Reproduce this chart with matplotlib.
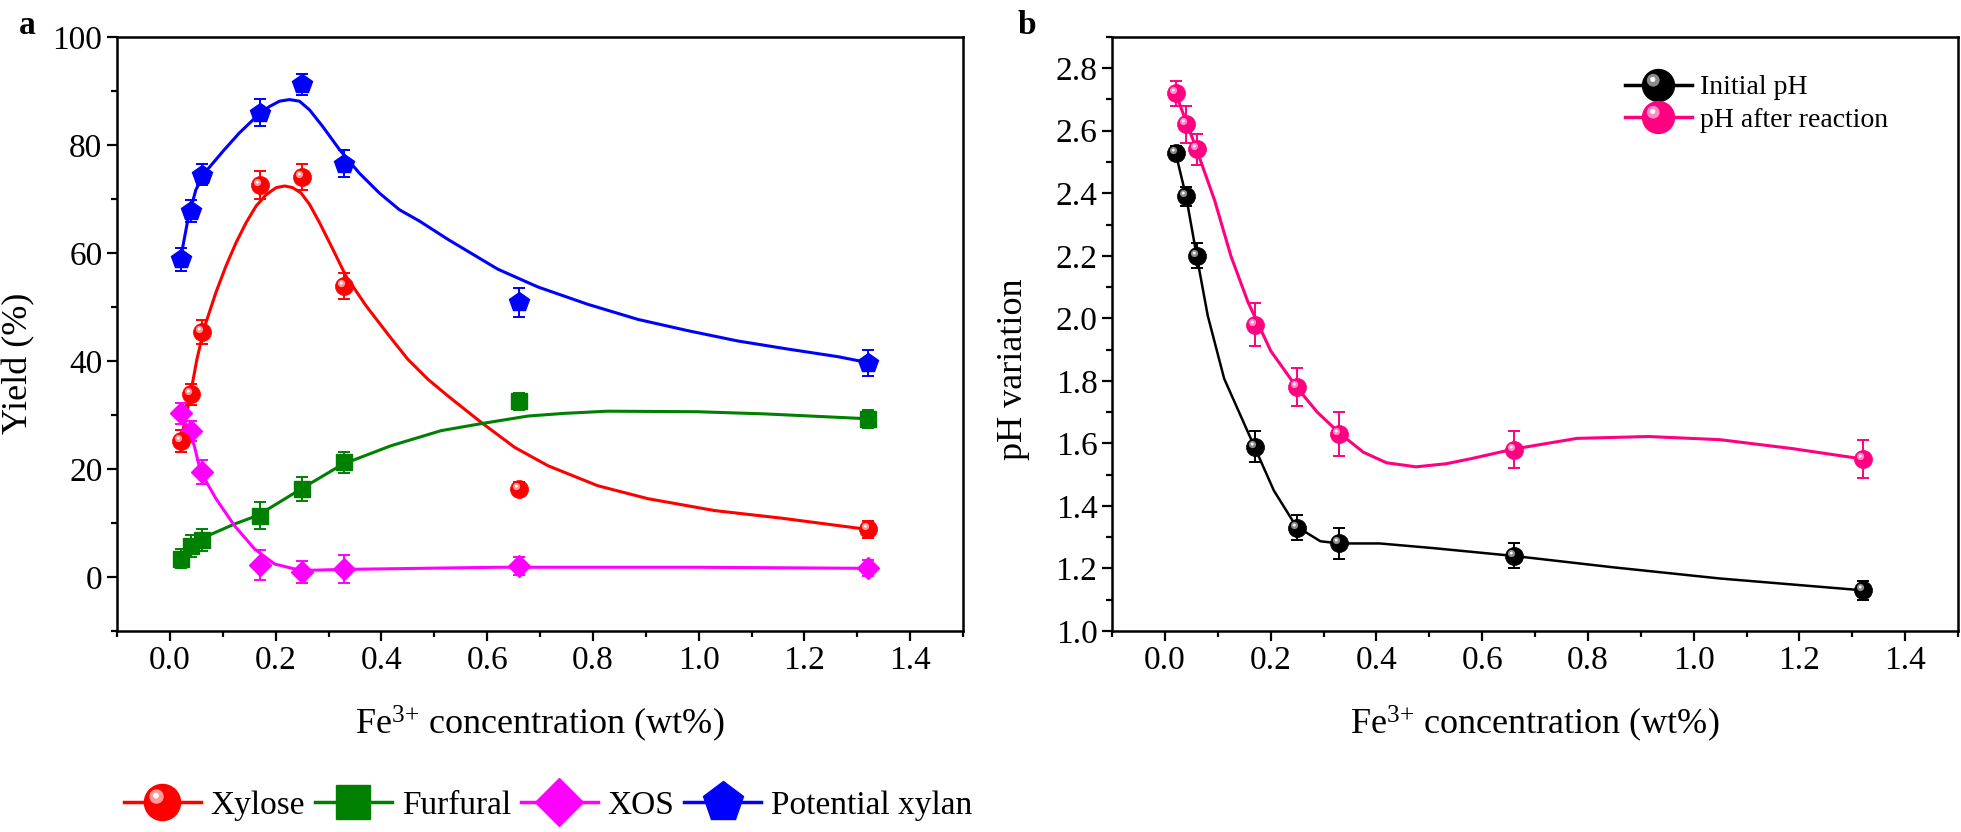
import numpy as np
import matplotlib
matplotlib.use("Agg")
import matplotlib.pyplot as plt
from matplotlib.lines import Line2D
from matplotlib.path import Path
from matplotlib.ticker import MultipleLocator, FormatStrFormatter
from matplotlib.legend_handler import HandlerTuple

plt.rcParams['font.family'] = ['Liberation Serif', 'DejaVu Serif']
plt.rcParams['mathtext.fontset'] = 'custom'
plt.rcParams['mathtext.rm'] = 'Liberation Serif'
plt.rcParams['mathtext.it'] = 'Liberation Serif:italic'

# Fe3+ concentration (wt%)
conc = [0.02, 0.04, 0.06, 0.17, 0.25, 0.33, 0.66, 1.32]

# panel a: yields (%)
xylose = [25.2, 33.8, 45.3, 72.6, 74.0, 53.8, 16.3, 8.8]
xylose_err = [2.0, 2.0, 2.2, 2.6, 2.4, 2.4, 1.2, 1.5]
furfural = [3.4, 5.7, 6.9, 11.3, 16.3, 21.2, 32.5, 29.3]
furfural_err = [1.8, 2.0, 2.0, 2.5, 2.3, 2.0, 1.5, 1.7]
xos = [30.3, 27.0, 19.5, 2.2, 0.9, 1.5, 2.0, 1.6]
xos_err = [2.0, 1.8, 2.2, 2.8, 2.0, 2.6, 1.7, 1.5]
xylan = [58.8, 67.8, 74.5, 86.0, 91.2, 76.5, 50.9, 39.7]
xylan_err = [2.2, 2.0, 2.0, 2.5, 2.0, 2.5, 2.7, 2.4]

# fitted curves of panel a
xylose_fit_x = [0.02, 0.03, 0.04, 0.051, 0.065, 0.087, 0.106, 0.125, 0.144, 0.163, 0.182, 0.201, 0.217,
                0.232, 0.248, 0.264, 0.283, 0.308, 0.333, 0.371, 0.415, 0.45, 0.488, 0.526, 0.589, 0.652,
                0.715, 0.809, 0.904, 1.03, 1.156, 1.32]
xylose_fit_y = [25.2, 29.5, 34.5, 40.3, 46.2, 52.7, 57.6, 61.9, 65.6, 68.7, 70.8, 72.1, 72.4,
                72.1, 71.1, 69.0, 65.6, 60.7, 55.7, 50.2, 44.6, 40.3, 36.6, 33.5, 28.6, 24.0,
                20.6, 16.9, 14.5, 12.3, 10.9, 8.8]
furfural_fit_x = [0.02, 0.059, 0.122, 0.166, 0.248, 0.327, 0.418, 0.513, 0.589, 0.677, 0.746, 0.828, 0.998, 1.125, 1.32]
furfural_fit_y = [3.5, 7.1, 9.8, 11.4, 16.3, 20.9, 24.3, 27.1, 28.4, 29.8, 30.3, 30.7, 30.6, 30.2, 29.3]
xos_fit_x = [0.02, 0.037, 0.046, 0.058, 0.087, 0.122, 0.16, 0.198, 0.248, 0.327, 0.62, 1.0, 1.32]
xos_fit_y = [30.3, 26.9, 24.3, 19.5, 14.5, 9.5, 5.2, 2.4, 1.2, 1.4, 1.8, 1.8, 1.6]
xylan_fit_x = [0.02, 0.034, 0.049, 0.068, 0.10, 0.131, 0.163, 0.188, 0.207, 0.226, 0.245, 0.264, 0.289,
               0.321, 0.358, 0.396, 0.434, 0.472, 0.526, 0.62, 0.696, 0.79, 0.885, 0.98, 1.074, 1.169,
               1.263, 1.32]
xylan_fit_y = [58.9, 66.2, 71.7, 75.1, 78.8, 82.2, 85.2, 87.1, 88.1, 88.4, 88.1, 86.5, 83.4,
               79.1, 74.8, 71.1, 68.0, 65.9, 62.5, 57.0, 53.7, 50.5, 47.7, 45.6, 43.7, 42.2,
               40.8, 39.7]

# panel b: pH
ph_init = [2.53, 2.39, 2.20, 1.59, 1.33, 1.28, 1.24, 1.13]
ph_init_err = [0.02, 0.03, 0.04, 0.05, 0.04, 0.05, 0.04, 0.03]
ph_after = [2.72, 2.62, 2.54, 1.98, 1.78, 1.63, 1.58, 1.55]
ph_after_err = [0.04, 0.06, 0.05, 0.07, 0.06, 0.07, 0.06, 0.06]

ph_init_fit_x = [0.02, 0.04, 0.06, 0.081, 0.112, 0.168, 0.206, 0.248, 0.294, 0.33, 0.406, 0.508, 0.66, 0.846, 1.049, 1.32]
ph_init_fit_y = [2.53, 2.39, 2.20, 2.008, 1.807, 1.594, 1.449, 1.335, 1.287, 1.28, 1.28, 1.265, 1.24, 1.204, 1.168, 1.13]
ph_after_fit_x = [0.02, 0.04, 0.059, 0.094, 0.125, 0.157, 0.2, 0.248, 0.288, 0.33, 0.375, 0.419, 0.475,
                  0.532, 0.576, 0.66, 0.779, 0.914, 1.049, 1.184, 1.32]
ph_after_fit_y = [2.72, 2.63, 2.544, 2.377, 2.198, 2.052, 1.896, 1.782, 1.70, 1.633, 1.572, 1.538, 1.525,
                  1.535, 1.55, 1.582, 1.616, 1.622, 1.612, 1.584, 1.55]

RED = '#ff0000'
GREEN = '#008000'
MAGENTA = '#ff00ff'
BLUE = '#0000ff'
PINK = '#ff0080'
SERIF = ['Liberation Serif', 'DejaVu Serif']


def spot(cx, cy, r):
    # small disc placed off-centre inside the marker box (for the "ball" shine)
    c = Path.circle((cx, cy), r)
    verts = np.vstack([[1.0, 1.0], c.vertices])
    codes = np.concatenate([[Path.MOVETO], c.codes])
    return Path(verts, codes)


SHINE1 = spot(-0.33, 0.33, 0.4)
SHINE2 = spot(-0.36, 0.38, 0.16)


def ball(ax, x, y, color, light, ms, z=5):
    ax.plot(x, y, ls='none', marker='o', ms=ms, mfc=color, mec=color, mew=0.5, zorder=z)
    ax.plot(x, y, ls='none', marker=SHINE1, ms=ms, mfc=light, mec='none', mew=0, zorder=z + 0.1)
    ax.plot(x, y, ls='none', marker=SHINE2, ms=ms, mfc='white', mec='none', mew=0, zorder=z + 0.2)


def ball_handle(color, light, ms):
    h1 = Line2D([], [], color=color, lw=2.5, marker='o', ms=ms, mfc=color, mec=color)
    h2 = Line2D([], [], ls='none', marker=SHINE1, ms=ms, mfc=light, mec='none', mew=0)
    h3 = Line2D([], [], ls='none', marker=SHINE2, ms=ms, mfc='white', mec='none', mew=0)
    return (h1, h2, h3)


def style_axes(ax):
    for s in ax.spines.values():
        s.set_linewidth(1.8)
    ax.tick_params(which='both', direction='out', top=False, right=False, labelsize=24, width=1.6)
    ax.tick_params(which='major', length=7)
    ax.tick_params(which='minor', length=4)
    ax.set_xlim(-0.1, 1.5)
    ax.xaxis.set_major_locator(MultipleLocator(0.2))
    ax.xaxis.set_minor_locator(MultipleLocator(0.1))
    ax.xaxis.set_major_formatter(FormatStrFormatter('%.1f'))
    ax.set_xlabel('Fe$^{3{+}}$ concentration (wt%)', fontsize=26, labelpad=20)


fig = plt.figure(figsize=(19.61, 8.32), dpi=100)
axa = fig.add_axes([0.0597, 0.2416, 0.4314, 0.714])
axb = fig.add_axes([0.5671, 0.2416, 0.4314, 0.714])

# ---- panel a
axa.plot(xylose_fit_x, xylose_fit_y, color=RED, lw=2.2, zorder=3, solid_joinstyle='round')
axa.plot(furfural_fit_x, furfural_fit_y, color=GREEN, lw=2.2, zorder=3, solid_joinstyle='round')
axa.plot(xos_fit_x, xos_fit_y, color=MAGENTA, lw=2.2, zorder=3, solid_joinstyle='round')
axa.plot(xylan_fit_x, xylan_fit_y, color=BLUE, lw=2.2, zorder=3, solid_joinstyle='round')

for vals, err, c in [(xylose, xylose_err, RED), (furfural, furfural_err, GREEN),
                     (xos, xos_err, MAGENTA), (xylan, xylan_err, BLUE)]:
    axa.errorbar(conc, vals, yerr=err, fmt='none', ecolor=c, elinewidth=1.4, capsize=4, capthick=1.4, zorder=2)

axa.plot(conc, furfural, ls='none', marker='s', ms=11, color=GREEN, zorder=5)
axa.plot(conc, xos, ls='none', marker='D', ms=11, color=MAGENTA, zorder=5)
axa.plot(conc, xylan, ls='none', marker='p', ms=15, color=BLUE, zorder=5)
ball(axa, conc, xylose, RED, '#ff9a9a', 13)

axa.set_ylim(-10, 100)
axa.yaxis.set_major_locator(MultipleLocator(20))
axa.yaxis.set_minor_locator(MultipleLocator(10))
style_axes(axa)
axa.set_ylabel('Yield (%)', fontsize=26)
axa.yaxis.set_label_coords(-0.097, 0.45)

hx = ball_handle(RED, '#ff9a9a', 26)
hf = Line2D([], [], color=GREEN, lw=2.5, marker='s', ms=25)
ho = Line2D([], [], color=MAGENTA, lw=2.5, marker='D', ms=24)
hp = Line2D([], [], color=BLUE, lw=2.5, marker='p', ms=30)
fig.legend([hx, hf, ho, hp], ['Xylose', 'Furfural', 'XOS', 'Potential xylan'],
           loc='center', bbox_to_anchor=(0.2795, 0.032), ncol=4, frameon=False,
           prop={'family': SERIF, 'size': 24},
           handlelength=2.3, handletextpad=0.3, columnspacing=0.3, numpoints=1,
           handler_map={tuple: HandlerTuple(ndivide=1)})

# ---- panel b
axb.plot(ph_init_fit_x, ph_init_fit_y, color='black', lw=1.8, zorder=3, solid_joinstyle='round')
axb.plot(ph_after_fit_x, ph_after_fit_y, color=PINK, lw=2.2, zorder=3, solid_joinstyle='round')
axb.errorbar(conc, ph_init, yerr=ph_init_err, fmt='none', ecolor='black', elinewidth=1.4, capsize=4, capthick=1.4, zorder=2)
axb.errorbar(conc, ph_after, yerr=ph_after_err, fmt='none', ecolor=PINK, elinewidth=1.4, capsize=4, capthick=1.4, zorder=2)
ball(axb, conc, ph_init, 'black', '#8c8c8c', 13)
ball(axb, conc, ph_after, PINK, '#ff8cc6', 13)

axb.set_ylim(1.0, 2.9)
axb.yaxis.set_major_locator(MultipleLocator(0.2))
axb.yaxis.set_minor_locator(MultipleLocator(0.1))
axb.yaxis.set_major_formatter(FormatStrFormatter('%.1f'))
style_axes(axb)
axb.set_ylabel('pH variation', fontsize=26)
axb.yaxis.set_label_coords(-0.097, 0.44)

hi = ball_handle('black', '#8c8c8c', 23)
ha = ball_handle(PINK, '#ff8cc6', 23)
axb.legend([hi, ha], ['Initial pH', 'pH after reaction'], loc='upper left',
           bbox_to_anchor=(0.8287, 0.91), bbox_transform=fig.transFigure,
           frameon=False, prop={'family': SERIF, 'size': 20}, borderpad=0, borderaxespad=0,
           handlelength=2.4, handletextpad=0.3, labelspacing=0.25, numpoints=1,
           handler_map={tuple: HandlerTuple(ndivide=1)})

fig.text(0.0097, 0.959, 'a', fontsize=24, fontweight='bold', va='baseline')
fig.text(0.519, 0.959, 'b', fontsize=24, fontweight='bold', va='baseline')

fig.savefig('out.png', dpi=100)
